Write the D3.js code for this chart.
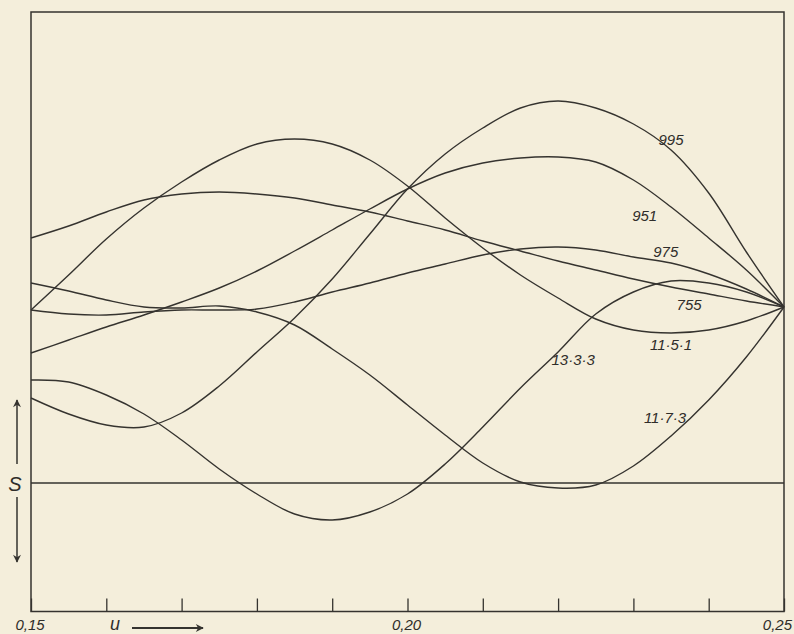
<!DOCTYPE html>
<html>
<head>
<meta charset="utf-8">
<script src="https://cdn.jsdelivr.net/npm/d3@7"></script>
<style>
    body { margin: 0; background: #f4eedb; }
    svg { display: block; }
    .curve { fill: none; stroke: #35332f; stroke-width: 1.4; }
    .frame { fill: none; stroke: #35332f; stroke-width: 1.5; }
    .lbl { font-family: "Liberation Sans", sans-serif; font-style: italic; font-size: 15px; fill: #2f2d2a; }
</style>
</head>
<body>
<div id="chart"></div>
<script>
// u grid (0.150 ... 0.250, step 0.005)
const uGrid = [0.150, 0.155, 0.160, 0.165, 0.170, 0.175, 0.180, 0.185, 0.190, 0.195,
               0.200, 0.205, 0.210, 0.215, 0.220, 0.225, 0.230, 0.235, 0.240, 0.245, 0.250];

// S values (arbitrary units)
const s995  = [8.5, 6.9, 5.8, 5.6, 7.0, 9.7, 13.1, 16.5, 20.4, 24.9, 29.4, 32.9, 35.5, 37.5, 38.2, 37.5, 35.9, 33.3, 29.0, 23.1, 17.6];
const s951  = [13.0, 14.3, 15.6, 16.8, 18.1, 19.5, 21.2, 23.2, 25.3, 27.4, 29.4, 31.0, 32.0, 32.5, 32.6, 32.1, 30.3, 27.6, 24.5, 21.3, 17.6];
const s975  = [17.3, 16.9, 16.8, 17.1, 17.3, 17.3, 17.4, 18.1, 19.1, 20.0, 21.0, 21.9, 22.8, 23.4, 23.6, 23.3, 22.6, 22.0, 20.9, 19.4, 17.6];
const s755  = [24.5, 25.7, 27.1, 28.3, 28.9, 29.1, 28.9, 28.5, 27.8, 27.1, 26.2, 25.3, 24.2, 23.2, 22.2, 21.3, 20.4, 19.6, 18.9, 18.2, 17.6];
const s1151 = [17.3, 20.8, 24.4, 27.5, 30.1, 32.3, 33.9, 34.4, 33.9, 32.3, 29.7, 26.5, 23.5, 20.8, 18.5, 16.4, 15.3, 15.0, 15.3, 16.2, 17.6];
const s1333 = [10.3, 10.1, 8.8, 6.9, 4.3, 1.4, -1.1, -3.1, -3.7, -2.9, -1.1, 1.9, 5.6, 9.5, 13.1, 16.9, 19.1, 20.2, 20.0, 19.1, 17.6];
const s1173 = [20.0, 19.2, 18.3, 17.6, 17.5, 17.7, 17.1, 15.8, 13.4, 10.8, 7.8, 4.8, 2.0, 0.1, -0.5, -0.2, 1.7, 4.7, 8.3, 12.6, 17.6];

const curveNames = ["995", "951", "975", "755", "11·5·1", "13·3·3", "11·7·3"];
const curveSeries = [s995, s951, s975, s755, s1151, s1333, s1173];

// label anchors in data units [u, S]
const labelAt = [[0.2350, 34.3], [0.2315, 26.7], [0.2343, 23.1], [0.2374, 17.8],
                 [0.2350, 13.8], [0.2220, 12.3], [0.2342, 6.5]];

const uTicks = [0.15, 0.16, 0.17, 0.18, 0.19, 0.20, 0.21, 0.22, 0.23, 0.24, 0.25];
const uTickLabels = ["0,15", "0,20", "0,25"];
const uLabelled = [0.15, 0.20, 0.25];

const WIDTH = 794;
const HEIGHT = 634;
const LEFT = 31, RIGHT = 784, TOP = 12, BOTTOM = 611.5;

let svg = d3.select("#chart")
    .append("svg")
    .attr("width", WIDTH)
    .attr("height", HEIGHT);

let xScale = d3.scaleLinear().domain([0.15, 0.25]).range([LEFT, RIGHT]);
let yScale = d3.scaleLinear().domain([-12.85, 47.1]).range([BOTTOM, TOP]);

// arrow heads
let defs = svg.append("defs");
defs.append("marker")
    .attr("id", "arr")
    .attr("viewBox", "0 0 10 10")
    .attr("refX", 9).attr("refY", 5)
    .attr("markerWidth", 17).attr("markerHeight", 8)
    .attr("markerUnits", "userSpaceOnUse")
    .attr("orient", "auto")
    .append("path")
    .attr("d", "M0,0 L10,5 L0,10 L3,5 Z")
    .attr("fill", "#35332f");

// zero line
svg.append("line")
    .attr("x1", LEFT).attr("x2", RIGHT)
    .attr("y1", yScale(0)).attr("y2", yScale(0))
    .attr("stroke", "#35332f").attr("stroke-width", 1.3);

// curves
let line = d3.line()
    .x((d, i) => xScale(uGrid[i]))
    .y(d => yScale(d))
    .curve(d3.curveCatmullRom.alpha(0.5));

svg.append("g")
    .selectAll("path")
    .data(curveSeries)
    .enter()
    .append("path")
    .classed("curve", true)
    .attr("d", d => line(d));

// curve labels
svg.append("g")
    .selectAll("text")
    .data(curveNames)
    .enter()
    .append("text")
    .classed("lbl", true)
    .attr("x", (d, i) => xScale(labelAt[i][0]))
    .attr("y", (d, i) => yScale(labelAt[i][1]))
    .attr("dy", "0.36em")
    .attr("text-anchor", "middle")
    .text(d => d);

// frame
svg.append("rect")
    .classed("frame", true)
    .attr("x", LEFT).attr("y", TOP)
    .attr("width", RIGHT - LEFT).attr("height", BOTTOM - TOP);

// bottom ticks, pointing inward
svg.append("g")
    .attr("transform", "translate(0," + BOTTOM + ")")
    .call(d3.axisTop(xScale).tickValues(uTicks).tickSize(13).tickFormat(""))
    .call(g => g.select(".domain").remove())
    .call(g => g.selectAll("line").attr("stroke", "#35332f").attr("stroke-width", 1.3));

svg.append("g")
    .selectAll("text")
    .data(uLabelled)
    .enter()
    .append("text")
    .classed("lbl", true)
    .attr("x", (d, i) => i === 2 ? WIDTH - 2 : xScale(d) - 1)
    .attr("y", 630)
    .attr("text-anchor", (d, i) => i === 2 ? "end" : "middle")
    .style("font-size", "15px")
    .text((d, i) => uTickLabels[i]);

// u arrow
svg.append("text")
    .classed("lbl", true)
    .attr("x", 115).attr("y", 630)
    .attr("text-anchor", "middle")
    .style("font-size", "18px")
    .text("u");
svg.append("line")
    .attr("x1", 132).attr("x2", 203)
    .attr("y1", 628).attr("y2", 628)
    .attr("stroke", "#35332f").attr("stroke-width", 1.8)
    .attr("marker-end", "url(#arr)");

// S arrows
svg.append("text")
    .classed("lbl", true)
    .attr("x", 15).attr("y", 491)
    .attr("text-anchor", "middle")
    .style("font-size", "20px")
    .text("S");
svg.append("line")
    .attr("x1", 17).attr("x2", 17)
    .attr("y1", 464).attr("y2", 400)
    .attr("stroke", "#35332f").attr("stroke-width", 1.5)
    .attr("marker-end", "url(#arr)");
svg.append("line")
    .attr("x1", 17).attr("x2", 17)
    .attr("y1", 497).attr("y2", 562)
    .attr("stroke", "#35332f").attr("stroke-width", 1.5)
    .attr("marker-end", "url(#arr)");
</script>
</body>
</html>
